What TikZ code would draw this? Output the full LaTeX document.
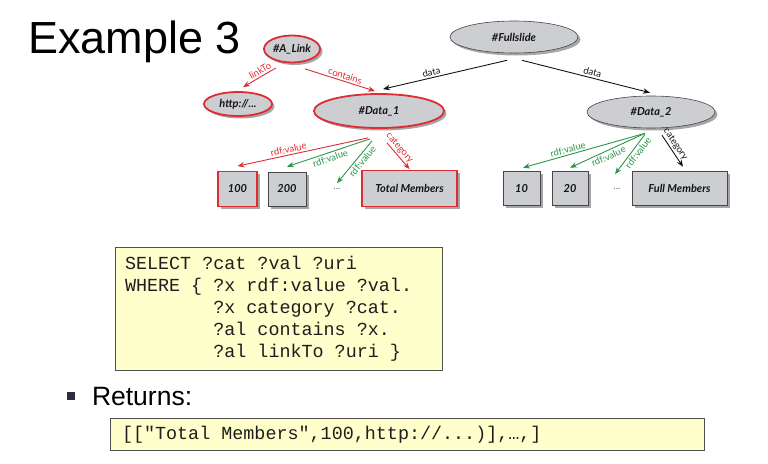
\documentclass[tikz,border=0pt]{standalone}
\usepackage{fontspec}
\setmainfont{Liberation Sans}
\setmonofont{Liberation Mono}
\newfontfamily\graphfont{Lato}
\usetikzlibrary{shapes.geometric,shadows,arrows.meta}
\begin{document}
\begin{tikzpicture}[x=1pt,y=-1pt,
  res/.style={ellipse,inner sep=0pt,fill={rgb,255:red,204;green,206;blue,209},draw={rgb,255:red,70;green,70;blue,72},line width=0.6pt,drop shadow={shadow xshift=2.5pt,shadow yshift=-2.5pt,fill=black,opacity=.35},text={rgb,255:red,20;green,20;blue,24},font=\graphfont\bfseries\itshape\fontsize{11}{13}\selectfont},
  hotres/.style={res,draw={rgb,255:red,222;green,44;blue,52},line width=1.8pt},
  lit/.style={res,rectangle},
  hotlit/.style={hotres,rectangle},
  gap/.style={inner sep=0pt,text={rgb,255:red,120;green,120;blue,120},font=\graphfont\fontsize{10}{12}\selectfont},
  rel/.style={-{Stealth[length=7pt,width=5.5pt]},line width=0.9pt,color={rgb,255:red,20;green,20;blue,20}},
  redrel/.style={rel,color={rgb,255:red,222;green,44;blue,52}},
  greenrel/.style={rel,color={rgb,255:red,44;green,150;blue,72}},
  lbl/.style={sloped,inner sep=1.6pt,font=\graphfont\fontsize{9.5}{11}\selectfont},
  plaintext/.style={inner sep=0pt,outer sep=0pt,anchor=base west,text=black},
  codeline/.style={plaintext,text={rgb,255:red,30;green,30;blue,30},font=\ttfamily\fontsize{18.4}{22}\selectfont},
  notebox/.style={rectangle,inner sep=0pt,anchor=north west,fill={rgb,255:red,255;green,255;blue,204},draw={rgb,255:red,80;green,80;blue,80},line width=0.8pt},
  bulletsq/.style={rectangle,inner sep=0pt,minimum size=8pt,fill={rgb,255:red,45;green,45;blue,60}}]
\path[use as bounding box] (0,0) rectangle (768,463);
\node[plaintext,font=\fontsize{45}{54}\selectfont] (title) at (28,53) {Example 3};
\node[hotres,minimum width=56pt,minimum height=27pt] (alink) at (292,49) {\#A\_Link};
\node[hotres,minimum width=68pt,minimum height=24pt] (http) at (238,104) {http://...};
\node[hotres,minimum width=130pt,minimum height=34pt] (d1) at (379,111) {\#Data\_1};
\node[res,minimum width=128pt,minimum height=32pt] (fs) at (514,37) {\#Fullslide};
\node[res,minimum width=128pt,minimum height=32pt] (d2) at (651,112) {\#Data\_2};
\node[hotlit,minimum width=39pt,minimum height=35pt] (v100) at (237.5,189) {100};
\node[lit,minimum width=38pt,minimum height=34pt] (v200) at (287,189) {200};
\node[gap] (more1) at (337,189) {...};
\node[hotlit,minimum width=95pt,minimum height=36pt] (total) at (409.5,188.5) {Total Members};
\node[lit,minimum width=37pt,minimum height=34pt] (v10) at (521.5,188.5) {10};
\node[lit,minimum width=36pt,minimum height=34pt] (v20) at (570,188.5) {20};
\node[gap] (more2) at (617,189) {...};
\node[lit,minimum width=95pt,minimum height=34pt] (full) at (679.5,188.5) {Full Members};
\draw[redrel] ([xshift=-16pt,yshift=-4.5pt]alink.south) -- node[lbl,above,pos=.4] {linkTo} ([xshift=5pt,yshift=4pt]http.north);
\draw[redrel] ([xshift=13pt,yshift=-5.5pt]alink.south) -- node[lbl,above,pos=.55] {contains} ([xshift=-4pt,yshift=2pt]d1.north);
\draw[rel] ([xshift=-7pt,yshift=-7pt]fs.south) -- node[lbl,above,pos=.6] {data} ([xshift=4pt,yshift=4pt]d1.north);
\draw[rel] ([xshift=8pt,yshift=-7pt]fs.south) -- node[lbl,above,pos=.54] {data} ([xshift=-1pt,yshift=3pt]d2.north);
\draw[redrel] ([xshift=-11pt,yshift=-9pt]d1.south) -- node[lbl,above,pos=.6] {rdf:value} ([yshift=4.5pt]v100.north);
\draw[greenrel] ([xshift=-9pt,yshift=-10pt]d1.south) -- node[lbl,below,pos=.5] {rdf:value} ([yshift=5pt]v200.north);
\draw[greenrel] ([xshift=-7pt,yshift=-12pt]d1.south) -- node[lbl,below,pos=.4] {rdf:value} ([yshift=5pt]more1.north);
\draw[redrel] ([xshift=8pt,yshift=-14pt]d1.south) -- node[lbl,above,pos=.35] {category} ([yshift=.5pt]total.north);
\draw[greenrel] ([xshift=-6pt,yshift=-5pt]d2.south) -- node[lbl,above,pos=.62] {rdf:value} ([xshift=1.5pt,yshift=3.5pt]v10.north);
\draw[greenrel] ([xshift=-6pt,yshift=-5pt]d2.south) -- node[lbl,below,pos=.52] {rdf:value} ([yshift=3.5pt]v20.north);
\draw[greenrel] ([xshift=-6pt,yshift=-6pt]d2.south) -- node[lbl,below,pos=.38] {rdf:value} ([xshift=-2pt,yshift=14pt]more2.north);
\draw[rel] ([xshift=11pt,yshift=-7pt]d2.south) -- node[lbl,above,pos=.4] {category} ([xshift=3.5pt,yshift=4.5pt]full.north);
\node[notebox,minimum width=327pt,minimum height=123pt] (query) at (115,247) {};
\node[codeline] (q1) at (125,269) {SELECT ?cat ?val ?uri};
\node[codeline] (q2) at (125,291) {WHERE \{ ?x rdf:value ?val.};
\node[codeline] (q3) at (213.3,313) {?x category ?cat.};
\node[codeline] (q4) at (213.3,335) {?al contains ?x.};
\node[codeline] (q5) at (213.3,357) {?al linkTo ?uri \}};
\node[bulletsq] (mark) at (71,396) {};
\node[plaintext,font=\fontsize{26.5}{32}\selectfont] (returns) at (92,405) {Returns:};
\node[notebox,minimum width=594pt,minimum height=32pt] (answer) at (110,418) {};
\node[codeline] (ans) at (122,439) {[["Total Members",100,http://...)],…,]};
\end{tikzpicture}
\end{document}
